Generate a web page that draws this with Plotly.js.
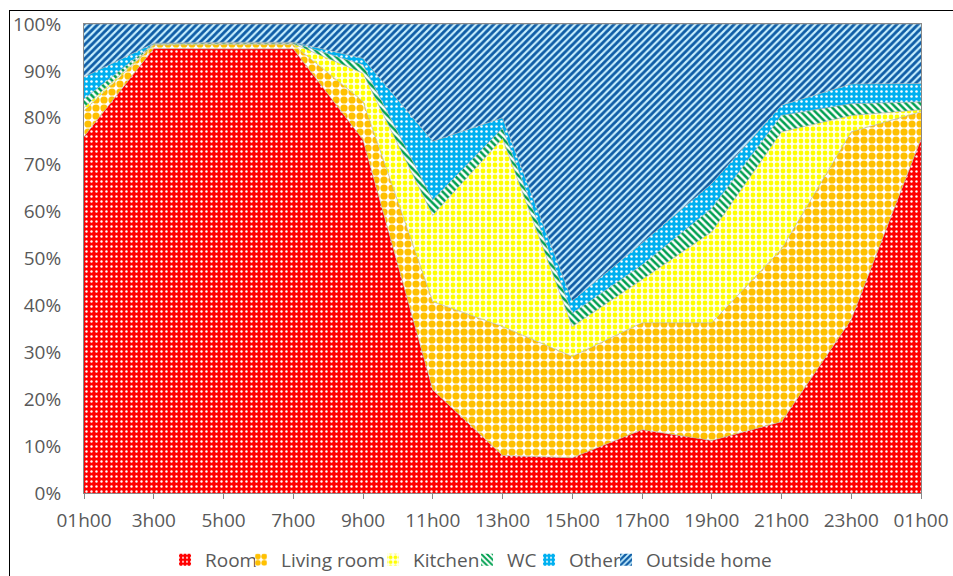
<!DOCTYPE html>
<html>
<head>
<meta charset="utf-8">
<script src="https://cdn.plot.ly/plotly-3.0.1.min.js"></script>
<style>
html,body{margin:0;padding:0;background:#fff;overflow:hidden;}
#chart{width:953px;height:576px;position:absolute;left:0;top:0;}
#frame{position:absolute;left:9px;top:10px;width:1200px;height:1200px;border-left:1px solid #000;border-top:1px solid #000;pointer-events:none;}
</style>
</head>
<body>
<div id="chart"></div>
<div id="frame"></div>
<script>
// ---- data ----
const hours = [1, 3, 5, 7, 9, 11, 13, 15, 17, 19, 21, 23, 25];
const tickLabels = ["01h00", "3h00", "5h00", "7h00", "9h00", "11h00", "13h00", "15h00", "17h00", "19h00", "21h00", "23h00", "01h00"];
const seriesNames = ["Room", "Living room", "Kitchen", "WC", "Other", "Outside home"];
const room       = [76.0, 94.8, 94.7, 94.7, 75.3, 22.0,  8.0,  7.5, 13.5, 11.2, 15.2, 37.0, 75.5];
const livingRoom = [ 5.5,  0.7,  0.9,  0.9,  8.2, 18.8, 27.5, 21.6, 22.8, 25.1, 36.8, 40.0,  5.8];
const kitchen    = [ 0.7,  0.2,  0.2,  0.2,  6.0, 18.4, 40.1,  6.4,  9.2, 19.4, 25.0,  3.5,  0.4];
const wc         = [ 1.8,  0.1,  0.2,  0.2,  1.8,  3.3,  2.2,  2.8,  3.1,  5.0,  3.5,  2.5,  1.7];
const other      = [ 4.7,  0.1,  0.1,  0.1,  1.4, 12.5,  2.2,  2.7,  4.7,  5.3,  2.2,  4.2,  3.9];
const outside    = [11.3,  4.1,  3.9,  3.9,  7.3, 25.0, 20.0, 59.0, 46.7, 34.0, 17.3, 12.8, 12.7];
const yTicks = [0, 10, 20, 30, 40, 50, 60, 70, 80, 90, 100];
const yTickLabels = yTicks.map(v => v + "%");

// ---- styles ----
const patterns = [
  {shape: ".",  bgcolor: "#FF0000", fgcolor: "#FFFFFF", size: 5, solidity: 0.18},
  {shape: ".",  bgcolor: "#FFFFFF", fgcolor: "#FFC000", size: 8, solidity: 0.64},
  {shape: ".",  bgcolor: "#FFFFF0", fgcolor: "#FFFF00", size: 6, solidity: 0.5},
  {shape: "\\", bgcolor: "#FFFFFF", fgcolor: "#00A050", size: 5, solidity: 0.5},
  {shape: ".",  bgcolor: "#00B0F0", fgcolor: "#FFFFFF", size: 5, solidity: 0.2},
  {shape: "/",  bgcolor: "#C8F0FF", fgcolor: "#0F5DA6", size: 5, solidity: 0.58}
];
const legendWidths = [31, 87, 49, 17, 32, 128];
const values = [room, livingRoom, kitchen, wc, other, outside];
const FONT = "Open Sans, Noto Sans, sans-serif";
const GREY = "#595959";

const traces = [];
values.forEach((v, i) => {
  traces.push({
    type: "scatter", mode: "lines", x: hours, y: v, name: seriesNames[i],
    stackgroup: "one", showlegend: false, legendgroup: seriesNames[i],
    line: {color: "rgba(170,170,170,0.8)", width: 0.75},
    fillpattern: patterns[i], hoverinfo: "x+y+name"
  });
});
// legend entries (square patterned swatches)
values.forEach((v, i) => {
  traces.push({
    type: "bar", x: [null], y: [null], name: seriesNames[i], legendgroup: seriesNames[i],
    marker: {color: patterns[i].bgcolor, pattern: Object.assign({}, patterns[i]), line: {width: 0}},
    legendwidth: legendWidths[i], showlegend: true, hoverinfo: "skip"
  });
});

const layout = {
  width: 953, height: 576,
  margin: {l: 84, r: 32, t: 24, b: 83, pad: 0},
  paper_bgcolor: "rgba(0,0,0,0)", plot_bgcolor: "#FFFFFF",
  font: {family: FONT, size: 19, color: GREY},
  showlegend: true,
  legend: {orientation: "h", x: 0.0968, xanchor: "left", xref: "paper",
           y: 0.028, yanchor: "middle", yref: "container",
           font: {family: FONT, size: 19, color: GREY}, bgcolor: "rgba(0,0,0,0)", traceorder: "normal"},
  xaxis: {type: "linear", range: [hours[0], hours[hours.length - 1]], tickmode: "array",
          tickvals: hours, ticktext: tickLabels, ticks: "outside", ticklen: 5, tickcolor: "#898989",
          showline: true, linecolor: "#898989", linewidth: 1, mirror: true,
          showgrid: false, zeroline: false, ticklabelstandoff: 5, automargin: false,
          tickfont: {family: FONT, size: 19, color: GREY}},
  yaxis: {range: [0, 100], tickmode: "array", tickvals: yTicks, ticktext: yTickLabels,
          ticks: "", showline: true, linecolor: "#898989", linewidth: 1, mirror: true,
          showgrid: false, zeroline: false, ticklabelstandoff: 18, automargin: false,
          tickfont: {family: FONT, size: 19, color: GREY}},
  hovermode: "closest"
};

Plotly.newPlot("chart", traces, layout, {displayModeBar: false, staticPlot: true});
</script>
</body>
</html>
